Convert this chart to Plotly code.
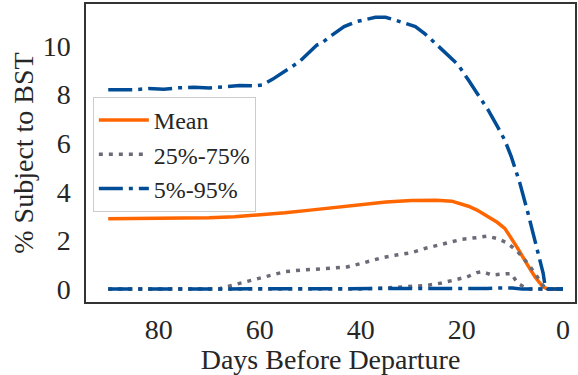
import plotly.graph_objects as go

# ---- data ----
days_mean = [90, 80, 70, 65, 60, 55, 50, 45, 40, 35, 30, 25, 22, 20, 18.7, 17, 15, 13, 11.5, 10, 9, 7, 5.5, 4, 3, 0]
mean_vals = [2.89, 2.90, 2.94, 2.98, 3.05, 3.14, 3.25, 3.37, 3.48, 3.58, 3.65, 3.66, 3.62, 3.5, 3.41, 3.25, 3.0, 2.75, 2.5, 2.05, 1.7, 1.0, 0.5, 0.1, 0, 0]

days_p75 = [90, 70, 68, 65, 62, 60, 57, 55, 52, 50, 45, 43, 40, 36, 33, 30, 27, 23, 20, 17, 15, 13, 11, 9, 7, 5.3, 4, 3, 0]
p75_vals = [0, 0, 0.02, 0.18, 0.35, 0.45, 0.6, 0.72, 0.78, 0.8, 0.85, 0.9, 1.05, 1.28, 1.4, 1.5, 1.69, 1.9, 2.05, 2.12, 2.18, 2.08, 1.9, 1.55, 1.07, 0.58, 0.16, 0, 0]

days_p25 = [90, 40, 35, 30, 27, 24, 21, 19, 17, 16, 15, 14, 12, 10.2, 9, 7.5, 7, 0]
p25_vals = [0, 0, 0.05, 0.1, 0.15, 0.25, 0.4, 0.5, 0.68, 0.72, 0.65, 0.58, 0.62, 0.64, 0.25, 0.03, 0, 0]

days_p95 = [90, 85, 82, 79, 76, 73, 70, 67, 64, 61, 59.5, 57.5, 55.5, 52.2, 48.7, 47.9, 45.7, 43.3, 41, 37.1, 35.1, 33.2, 29.2, 27.3, 25.6, 22.7, 20.7, 18.7, 16.7, 14.8, 12.8, 11.5, 10.2, 8.5, 6.9, 5.3, 3.9, 3.5, 3, 0]
p95_vals = [8.2, 8.2, 8.25, 8.22, 8.28, 8.3, 8.27, 8.33, 8.38, 8.36, 8.4, 8.63, 8.9, 9.35, 10.04, 10.1, 10.45, 10.8, 11.0, 11.18, 11.18, 11.07, 10.8, 10.5, 10.18, 9.63, 9.22, 8.6, 7.98, 7.37, 6.63, 6.13, 5.44, 4.35, 3.12, 1.74, 0.65, 0.1, 0, 0]

days_p05 = [90, 20, 15, 12, 10, 8, 0]
p05_vals = [0, 0, 0.03, 0.05, 0.05, 0, 0]

x_ticks = [80, 60, 40, 20, 0]
y_ticks = [0, 2, 4, 6, 8, 10]

ORANGE = "#ff6600"
GRAY = "#6b6b78"
BLUE = "#004c97"
DASHDOT = "24px,6px,4px,6px"
DOT = "4px,6px"

fig = go.Figure()
fig.add_trace(go.Scatter(x=days_mean, y=mean_vals, mode="lines", name="Mean",
                         line=dict(color=ORANGE, width=3.5)))
fig.add_trace(go.Scatter(x=days_p75, y=p75_vals, mode="lines", name="25%-75%",
                         line=dict(color=GRAY, width=3.5, dash=DOT)))
fig.add_trace(go.Scatter(x=days_p25, y=p25_vals, mode="lines", name="25%-75%",
                         showlegend=False, line=dict(color=GRAY, width=3.5, dash=DOT)))
fig.add_trace(go.Scatter(x=days_p95, y=p95_vals, mode="lines", name="5%-95%",
                         line=dict(color=BLUE, width=3.5, dash=DASHDOT)))
fig.add_trace(go.Scatter(x=days_p05, y=p05_vals, mode="lines", name="5%-95%",
                         showlegend=False, line=dict(color=BLUE, width=3.5, dash=DASHDOT)))

FONT = "Liberation Serif"
TXT = "#262626"
fig.update_layout(
    width=578, height=375,
    margin=dict(l=86, r=1, t=4, b=73),
    paper_bgcolor="white", plot_bgcolor="white",
    font=dict(family=FONT, size=28, color=TXT),
    showlegend=True,
    legend=dict(x=0.014, y=0.688, xanchor="left", yanchor="top",
                bgcolor="rgba(255,255,255,0.8)", bordercolor="#cccccc", borderwidth=1,
                itemwidth=50, tracegroupgap=0,
                font=dict(size=24, family=FONT, color=TXT)),
    xaxis=dict(range=[94.4, -2.4], tickvals=x_ticks, ticktext=[str(v) for v in x_ticks],
               showgrid=False, zeroline=False, showline=True, mirror=True,
               linecolor="#333333", linewidth=1.5,
               ticks="outside", ticklen=2, tickcolor="rgba(0,0,0,0)",
               tickfont=dict(family=FONT, size=28, color=TXT),
               title=dict(text="Days Before Departure", standoff=6,
                          font=dict(family=FONT, size=28, color=TXT))),
    yaxis=dict(range=[-0.53, 11.73], tickvals=y_ticks, ticktext=[str(v) for v in y_ticks],
               showgrid=False, zeroline=False, showline=True, mirror=True,
               linecolor="#333333", linewidth=1.5,
               ticks="outside", ticklen=8, tickcolor="rgba(0,0,0,0)",
               tickfont=dict(family=FONT, size=28, color=TXT),
               title=dict(text="% Subject to BST", standoff=1,
                          font=dict(family=FONT, size=28, color=TXT))),
)

fig.write_html("out.html")
